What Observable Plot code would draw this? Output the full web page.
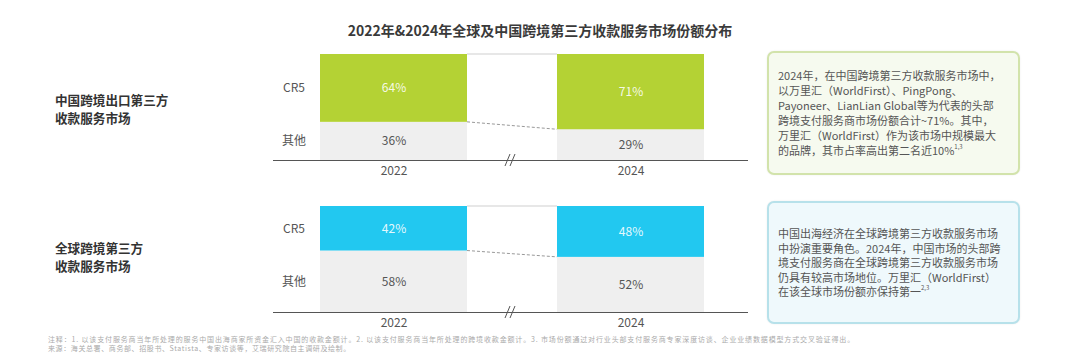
<!DOCTYPE html>
<html><head><meta charset="utf-8">
<script src="https://cdn.jsdelivr.net/npm/d3@7"></script>
<script src="https://cdn.jsdelivr.net/npm/@observablehq/plot@0.6"></script>
<style>
body{margin:0;width:1080px;height:355px;position:relative;background:#fff;font-family:"Noto Sans CJK SC","Noto Sans",sans-serif;overflow:hidden}
#title{position:absolute;left:0;top:20px;width:1080px;text-align:center;font-size:14px;line-height:20px;font-weight:bold;color:#3a3a3a}
.rowlab{position:absolute;left:55px;font-size:12.6px;line-height:18.5px;font-weight:bold;color:#333}
.chart{position:absolute;left:260px}
.box{position:absolute;left:767px;width:253px;box-sizing:border-box;border-radius:7px;border:2px solid;display:flex;align-items:center;padding:0 4px 0 9px;font-size:11px;color:#555;line-height:15px;white-space:nowrap;box-shadow:0 0 2px rgba(0,0,0,0.08)}
#box1{top:51px;height:124px;border-color:#d2e3ab;background:#f6faef}
#box2{top:201px;height:123px;border-color:#b7e1ea;background:#eff9fc;line-height:14.5px}
sup{font-size:6px;vertical-align:top;line-height:8px}
#foot{position:absolute;left:48px;top:335px;font-size:7px;line-height:8.5px;color:#aaa;white-space:nowrap}
#foot .l1{letter-spacing:0.85px}
#foot .l2{letter-spacing:0.6px}
</style></head><body>
<div id="title"></div>
<div class="rowlab" id="lab1" style="top:90.5px"></div>
<div class="rowlab" id="lab2" style="top:238.5px"></div>
<div class="chart" id="c1" style="top:39px"></div>
<div class="chart" id="c2" style="top:191px"></div>
<div class="box" id="box1"><div id="t1"></div></div>
<div class="box" id="box2"><div id="t2"></div></div>
<div id="foot"></div>
<script>
// ---- data ----
const title = "2022年&2024年全球及中国跨境第三方收款服务市场份额分布";
const marketNames = ["中国跨境出口第三方<br>收款服务市场", "全球跨境第三方<br>收款服务市场"];
const years = ["2022", "2024"];
const groups = ["CR5", "其他"];
const chinaCR5 = [64, 71];
const chinaOther = [36, 29];
const globalCR5 = [42, 48];
const globalOther = [58, 52];
const note1Lines = [
  "2024年，在中国跨境第三方收款服务市场中，",
  "以万里汇（WorldFirst）、PingPong、",
  "Payoneer、LianLian Global等为代表的头部",
  "跨境支付服务商市场份额合计~71%。其中，",
  "万里汇（WorldFirst）作为该市场中规模最大",
  "的品牌，其市占率高出第二名近10%<sup>1,3</sup>"
];
const note2Lines = [
  "中国出海经济在全球跨境第三方收款服务市场",
  "中扮演重要角色。2024年，中国市场的头部跨",
  "境支付服务商在全球跨境第三方收款服务市场",
  "仍具有较高市场地位。万里汇（WorldFirst）",
  "在该全球市场份额亦保持第一<sup>2,3</sup>"
];
const footLines = [
  "注释：1. 以该支付服务商当年所处理的服务中国出海商家所资金汇入中国的收款金额计。2. 以该支付服务商当年所处理的跨境收款金额计。3. 市场份额通过对行业头部支付服务商专家深度访谈、企业业绩数据模型方式交叉验证得出。",
  "来源：海关总署、商务部、招股书、Statista、专家访谈等，艾瑞研究院自主调研及绘制。"
];

document.getElementById("title").textContent = title;
document.getElementById("lab1").innerHTML = marketNames[0];
document.getElementById("lab2").innerHTML = marketNames[1];
document.getElementById("t1").innerHTML = note1Lines.join("<br>");
document.getElementById("t2").innerHTML = note2Lines.join("<br>");
document.getElementById("foot").innerHTML = `<span class="l1">${footLines[0]}</span><br><span class="l2">${footLines[1]}</span>`;

const order = ["其他", "CR5"];

function table(cr5, other) {
  const rows = [];
  years.forEach((y, i) => {
    rows.push({year: y, group: "其他", value: other[i]});
    rows.push({year: y, group: "CR5", value: cr5[i]});
  });
  return rows;
}

function decorations(cr5, other) {
  return (index, scales) => {
    const x = scales.x, y = scales.y;
    const bw = typeof x.bandwidth === "function" ? x.bandwidth() : 0;
    const xa = x(years[0]) + bw, xb = x(years[1]);
    const g = d3.create("svg:g");
    g.append("line").attr("x1", xa).attr("x2", xb)
      .attr("y1", y(cr5[0] + other[0])).attr("y2", y(cr5[1] + other[1]))
      .attr("stroke", "#cfcfcf").attr("stroke-width", 1);
    g.append("line").attr("x1", xa).attr("x2", xb)
      .attr("y1", y(other[0])).attr("y2", y(other[1]))
      .attr("stroke", "#999").attr("stroke-width", 1).attr("stroke-dasharray", "3,2");
    const m = (xa + xb) / 2, y0 = y(0);
    g.append("line").attr("x1", m - 7).attr("y1", y0 + 6).attr("x2", m - 2).attr("y2", y0 - 6).attr("stroke", "#555");
    g.append("line").attr("x1", m - 2).attr("y1", y0 + 6).attr("x2", m + 3).attr("y2", y0 - 6).attr("stroke", "#555");
    return g.node();
  };
}

function chart(cr5, other, color) {
  const data = table(cr5, other);
  const first = data.filter(d => d.year === years[0]);
  return Plot.plot({
    width: 500,
    height: 145,
    marginLeft: 59,
    marginRight: 56,
    marginTop: 15,
    marginBottom: 24,
    style: {fontFamily: '"Noto Sans CJK SC","Noto Sans",sans-serif', fontSize: "12px", color: "#555", background: "transparent"},
    x: {domain: years, paddingInner: 0.38, paddingOuter: 0, tickSize: 0, tickPadding: 6, label: null},
    y: {domain: [0, 100], axis: null},
    color: {domain: groups, range: [color, "#efefef"]},
    marks: [
      Plot.barY(data, Plot.stackY({x: "year", y: "value", z: "group", order, fill: "group"})),
      Plot.ruleY([0], {stroke: "#555", strokeWidth: 1.2, insetLeft: -46, insetRight: -44}),
      Plot.text(data, Plot.stackY({x: "year", y: "value", z: "group", order, text: d => d.group === "CR5" ? d.value + "%" : "", fill: "#fff", fillOpacity: 0.9, fontSize: 12})),
      Plot.text(data, Plot.stackY({x: "year", y: "value", z: "group", order, text: d => d.group === "其他" ? d.value + "%" : "", fill: "#555", fontSize: 12})),
      Plot.text(first, Plot.stackY({x: "year", y: "value", z: "group", order, text: "group", dx: -100, fill: "#555", fontSize: 12})),
      decorations(cr5, other)
    ]
  });
}

document.getElementById("c1").append(chart(chinaCR5, chinaOther, "#b4d234"));
document.getElementById("c2").append(chart(globalCR5, globalOther, "#22c8f0"));
</script>
</body></html>
